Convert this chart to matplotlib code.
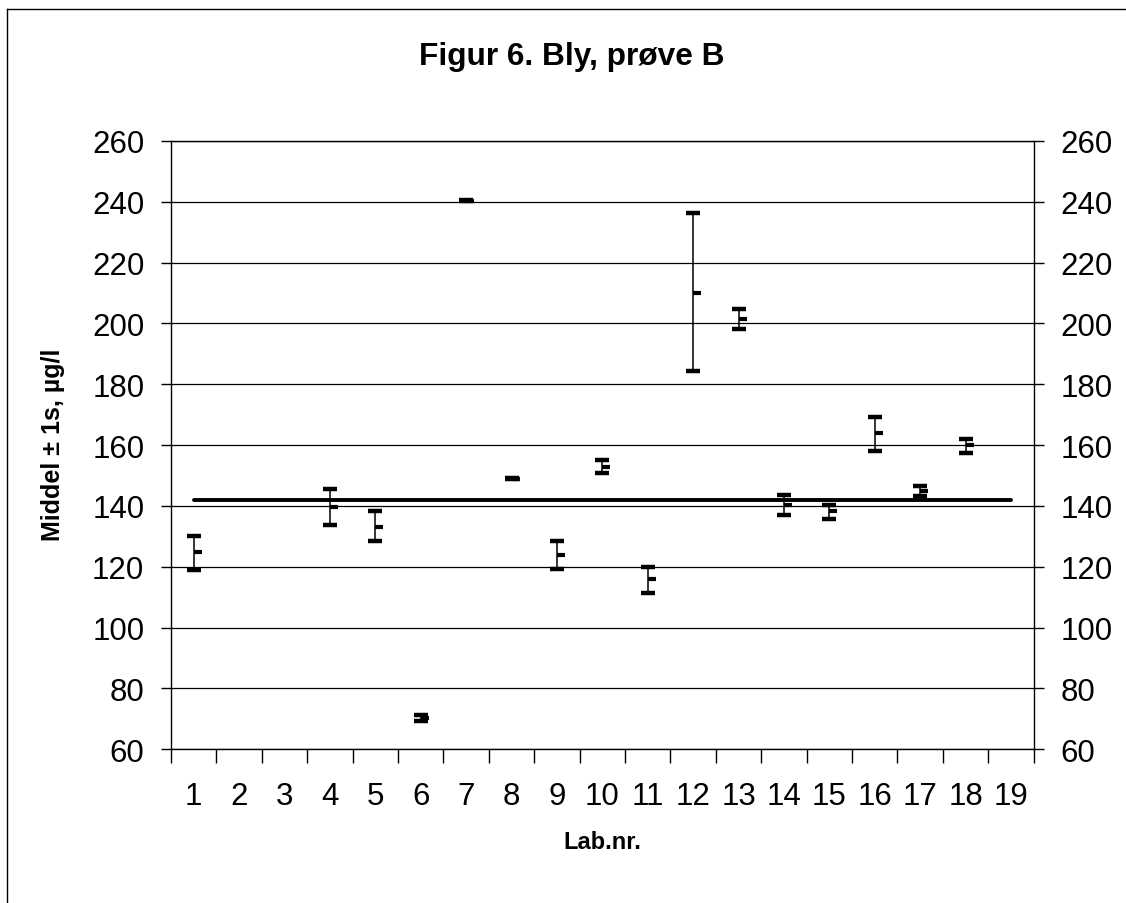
import matplotlib
matplotlib.use("Agg")
import matplotlib.pyplot as plt
from matplotlib.lines import Line2D
import numpy as np

plt.rcParams['font.family'] = ['Liberation Sans', 'DejaVu Sans']

labs = list(range(1, 20))
lab_with_data = [1, 4, 5, 6, 7, 8, 9, 10, 11, 12, 13, 14, 15, 16, 17, 18]
high = [130.0, 145.6, 138.2, 71.2, 240.6, 149.2, 128.5, 155.0, 120.0, 236.2, 204.7, 143.5, 140.4, 169.3, 146.5, 162.1]
mean = [124.8, 139.7, 133.1, 70.3, 240.4, 149.0, 123.9, 152.8, 116.0, 210.0, 201.4, 140.4, 138.4, 164.0, 144.8, 160.2]
low = [118.9, 133.9, 128.6, 69.4, 240.2, 148.8, 119.3, 150.7, 111.5, 184.4, 198.2, 137.0, 135.7, 158.1, 143.4, 157.4]
reference = 142.0
y_ticks = [60, 80, 100, 120, 140, 160, 180, 200, 220, 240, 260]

fig = plt.figure(figsize=(11.26, 9.04), dpi=100)
W, H = 1126, 904
ax = fig.add_axes([171 / W, 1 - 750.3 / H, (1033.7 - 171) / W, (750.3 - 142) / H])

# figure border (top and left visible)
fig.add_artist(Line2D([7 / W, 7 / W], [0, 1 - 10 / H], color='black', lw=1.0, transform=fig.transFigure))
fig.add_artist(Line2D([7 / W, 1], [1 - 10 / H, 1 - 10 / H], color='black', lw=1.0, transform=fig.transFigure))

xpos = np.array(lab_with_data, dtype=float)
ax.set_xlim(0.5, 19.5)
ax.set_ylim(60, 260)

for yv in y_ticks:
    ax.axhline(yv, color='black', lw=0.9, zorder=1)

# reference line
ax.plot([labs[0], labs[-1]], [reference, reference], color='black', lw=2.8, solid_capstyle='round', zorder=3)

ax.vlines(xpos, low, high, color='black', lw=1.1, zorder=4)
ax.plot(xpos, high, linestyle='none', marker='_', markersize=10, mew=3.2, color='black', zorder=5)
ax.plot(xpos, low, linestyle='none', marker='_', markersize=10, mew=3.2, color='black', zorder=5)
ax.plot(xpos, mean, linestyle='none', marker=1, markersize=5.5, mew=3.0, color='black', zorder=5)

ax.set_yticks(y_ticks)
ax.set_yticklabels([str(v) for v in y_ticks], fontsize=22.5)
ax.tick_params(axis='y', which='both', direction='out', length=7.2, width=1, pad=12,
               right=True, labelright=True, left=True, labelleft=True)

ax.set_xticks(labs)
ax.set_xticklabels([str(v) for v in labs], fontsize=22.5)
ax.tick_params(axis='x', which='major', length=0, pad=22.5)
ax.set_xticks(np.arange(0.5, 19.6, 1.0), minor=True)
ax.tick_params(axis='x', which='minor', direction='out', length=10, width=1)

for s in ax.spines.values():
    s.set_color('black')
    s.set_linewidth(1.0)

fig.text(572 / W, 1 - 57 / H, 'Figur 6. Bly, prøve B', ha='center', va='center', fontsize=22.8, fontweight='bold')
fig.text(53 / W, 1 - 445 / H, 'Middel ± 1s, µg/l', ha='center', va='center', rotation=90, fontsize=18, fontweight='bold')
fig.text(602 / W, 1 - 843 / H, 'Lab.nr.', ha='center', va='center', fontsize=17, fontweight='bold')

fig.savefig('out.png', dpi=100)
